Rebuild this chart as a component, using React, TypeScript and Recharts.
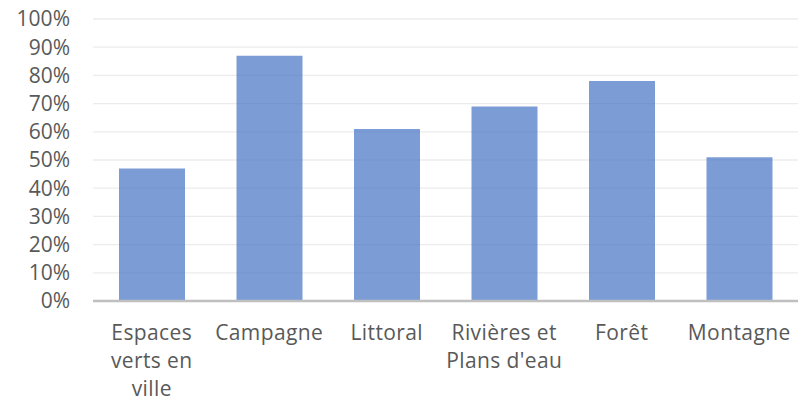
import { Bar, BarChart, CartesianGrid, XAxis, YAxis } from "recharts"

const categories = ["Espaces verts en ville", "Campagne", "Littoral", "Rivières et Plans d'eau", "Forêt", "Montagne"]
const shares = [47, 87, 61, 69, 78, 51]
const yTicks = [0, 10, 20, 30, 40, 50, 60, 70, 80, 90, 100]

const data = categories.map((name, i) => ({ name, value: shares[i] }))

const font = "'Open Sans', sans-serif"
const labelStyle = { fontSize: 21, fontFamily: font }

// greedy word wrap, Excel breaks these labels at roughly 11 characters
function wrap(label: string, maxChars = 11) {
  const lines: string[] = []
  let line = ""
  for (const word of label.split(" ")) {
    const next = line ? `${line} ${word}` : word
    if (line && next.length > maxChars) {
      lines.push(line)
      line = word
    } else {
      line = next
    }
  }
  if (line) lines.push(line)
  return lines
}

function CategoryTick({ x, y, payload }: { x: number; y: number; payload: { value: string } }) {
  return (
    <text x={x} y={y + 39} textAnchor="middle" fill="#595959" style={{ ...labelStyle, letterSpacing: 0.4 }}>
      {wrap(payload.value).map((line, i) => (
        <tspan key={i} x={x} dy={i === 0 ? 0 : 28}>
          {line}
        </tspan>
      ))}
    </text>
  )
}

export default function App() {
  return (
    <div style={{ position: "absolute", left: 0, top: 0, width: 798, height: 400, background: "#fff" }}>
      <BarChart width={798} height={400} data={data} margin={{ top: 19, right: 0, bottom: 0, left: 0 }}>
        <CartesianGrid stroke="#ececec" strokeWidth={1.3} vertical={false} />
        <XAxis
          dataKey="name"
          height={99}
          interval={0}
          tickLine={false}
          tickSize={0}
          tickMargin={0}
          axisLine={{ stroke: "#bfbfbf", strokeWidth: 2.3 }}
          tick={CategoryTick}
        />
        <YAxis
          width={93}
          domain={[0, 100]}
          ticks={yTicks}
          interval={0}
          axisLine={false}
          tickLine={false}
          tickSize={0}
          tickMargin={23}
          tickFormatter={(v) => `${v}%`}
          tick={{ ...labelStyle, fill: "#595959" }}
        />
        <Bar dataKey="value" fill="#4472c4" fillOpacity={0.7} barSize={66} isAnimationActive={false} />
      </BarChart>
    </div>
  )
}
